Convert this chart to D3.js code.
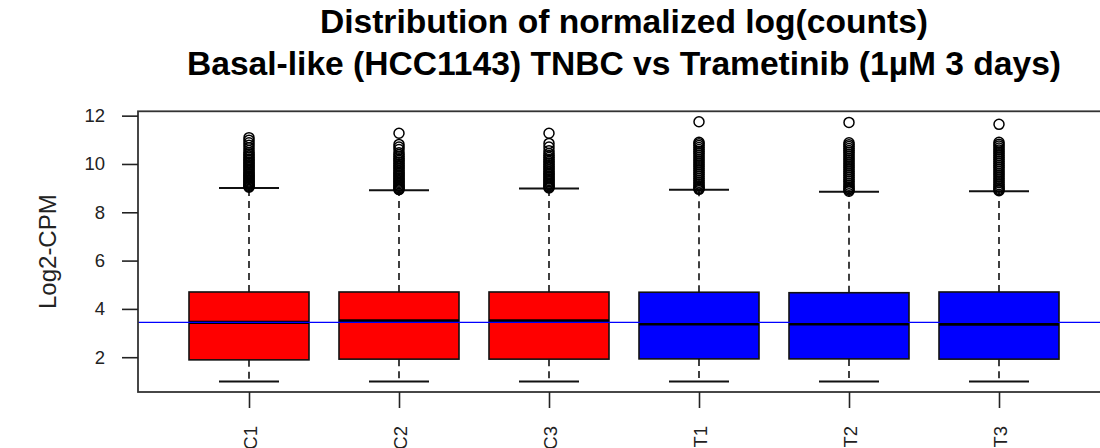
<!DOCTYPE html>
<html>
<head>
<meta charset="utf-8">
<script src="https://cdn.jsdelivr.net/npm/d3@7"></script>
<style>
  body { margin: 0; background: #fff; }
  svg { display: block; font-family: "Liberation Sans", Arial, sans-serif; }
</style>
</head>
<body>
<svg id="chart"></svg>
<script>
/////////////////// data ////////////////////////

var samples = ["C1", "C2", "C3", "T1", "T2", "T3"];
var condition = ["control", "control", "control", "trametinib", "trametinib", "trametinib"];

var lowerWhisker = [0.99, 0.99, 0.99, 0.99, 0.99, 0.99];
var q1 = [1.89, 1.92, 1.92, 1.93, 1.93, 1.92];
var median = [3.44, 3.51, 3.51, 3.38, 3.38, 3.37];
var q3 = [4.70, 4.70, 4.70, 4.69, 4.67, 4.70];
var upperWhisker = [9.01, 8.91, 8.98, 8.93, 8.85, 8.87];

var outC1 = [11.09, 10.98, 10.88, 10.78, 10.67, 10.56, 10.46, 10.4, 10.33, 10.27, 10.2, 10.14, 10.08, 10.02,
  9.96, 9.9, 9.84, 9.78, 9.72, 9.66, 9.6, 9.55, 9.5, 9.45, 9.4, 9.35, 9.3, 9.25, 9.2, 9.15, 9.11, 9.07, 9.04];
var outC2 = [11.27, 10.81, 10.7, 10.6, 10.46, 10.38, 10.3, 10.22, 10.15, 10.08, 10.01, 9.94, 9.87, 9.8,
  9.73, 9.66, 9.6, 9.54, 9.48, 9.42, 9.36, 9.3, 9.24, 9.18, 9.12, 9.07, 9.02, 8.97, 8.94];
var outC3 = [11.27, 10.85, 10.7, 10.55, 10.43, 10.35, 10.27, 10.19, 10.11, 10.04, 9.97, 9.9, 9.83, 9.76,
  9.69, 9.62, 9.56, 9.5, 9.44, 9.38, 9.32, 9.26, 9.2, 9.14, 9.09, 9.05, 9.01];
var outT1 = [11.75, 10.9, 10.84, 10.76, 10.68, 10.6, 10.52, 10.44, 10.36, 10.28, 10.2, 10.12, 10.04, 9.96,
  9.88, 9.8, 9.72, 9.64, 9.56, 9.48, 9.4, 9.32, 9.24, 9.17, 9.1, 9.04, 8.98, 8.95];
var outT2 = [11.72, 10.88, 10.8, 10.72, 10.64, 10.56, 10.48, 10.4, 10.32, 10.24, 10.16, 10.08, 10.0, 9.92,
  9.84, 9.76, 9.68, 9.6, 9.52, 9.44, 9.36, 9.28, 9.2, 9.12, 9.05, 8.98, 8.92, 8.87];
var outT3 = [11.64, 10.9, 10.82, 10.74, 10.66, 10.58, 10.5, 10.42, 10.34, 10.26, 10.18, 10.1, 10.02, 9.94,
  9.86, 9.78, 9.7, 9.62, 9.54, 9.46, 9.38, 9.3, 9.22, 9.14, 9.07, 9.0, 8.94, 8.89];
var outliers = [outC1, outC2, outC3, outT1, outT2, outT3];

var yTicks = [2, 4, 6, 8, 10, 12];
var refLine = 3.44;

var titleLines = ["Distribution of normalized log(counts)",
  "Basal-like (HCC1143) TNBC vs Trametinib (1\u00B5M 3 days)"];
var yLabel = "Log2-CPM";

/////////////////// layout //////////////////////

var svgWidth = 1100, svgHeight = 448;
var plotLeft = 138, plotRight = 1110, plotTop = 111.3, plotBottom = 392;

var svg = d3.select("#chart")
  .attr("width", svgWidth)
  .attr("height", svgHeight);

// R style: 4% padding around data range
var allVals = lowerWhisker.concat(d3.merge(outliers));
var yMin = d3.min(allVals), yMax = d3.max(allVals);
var yPad = (yMax - yMin) * 0.04;

var yScale = d3.scaleLinear()
  .domain([yMin - yPad, yMax + yPad])
  .range([plotBottom, plotTop]);

var xPad = samples.length * 0.04;
var xScale = d3.scaleLinear()
  .domain([0.5 - xPad, samples.length + 0.5 + xPad])
  .range([plotLeft, plotRight]);

var color = d3.scaleOrdinal()
  .domain(["control", "trametinib"])
  .range(["#ff0000", "#0000ff"]);

var boxW = 0.8 * (xScale(2) - xScale(1));
var capW = boxW / 2;

var data = samples.map(function (s, i) {
  return {name: s, x: xScale(i + 1), lo: lowerWhisker[i], q1: q1[i], med: median[i],
    q3: q3[i], hi: upperWhisker[i], out: outliers[i], cond: condition[i]};
});

/////////////////// boxes ///////////////////////

var g = svg.append("g");

var box = g.selectAll("g.box")
  .data(data)
  .enter()
  .append("g")
  .attr("class", "box");

// whiskers (dashed)
box.append("line")
  .attr("x1", function (d) { return d.x; })
  .attr("x2", function (d) { return d.x; })
  .attr("y1", function (d) { return yScale(d.q3); })
  .attr("y2", function (d) { return yScale(d.hi); })
  .attr("stroke", "#111").attr("stroke-width", 1.6).attr("stroke-dasharray", "7,5");
box.append("line")
  .attr("x1", function (d) { return d.x; })
  .attr("x2", function (d) { return d.x; })
  .attr("y1", function (d) { return yScale(d.q1); })
  .attr("y2", function (d) { return yScale(d.lo); })
  .attr("stroke", "#111").attr("stroke-width", 1.6).attr("stroke-dasharray", "7,5");

// caps
["hi", "lo"].forEach(function (k) {
  box.append("line")
    .attr("x1", function (d) { return d.x - capW / 2; })
    .attr("x2", function (d) { return d.x + capW / 2; })
    .attr("y1", function (d) { return yScale(d[k]); })
    .attr("y2", function (d) { return yScale(d[k]); })
    .attr("stroke", "#111").attr("stroke-width", 2);
});

box.append("rect")
  .attr("x", function (d) { return d.x - boxW / 2; })
  .attr("width", boxW)
  .attr("y", function (d) { return yScale(d.q3); })
  .attr("height", function (d) { return yScale(d.q1) - yScale(d.q3); })
  .attr("fill", function (d) { return color(d.cond); })
  .attr("stroke", "#111").attr("stroke-width", 1.6);

box.append("line")
  .attr("x1", function (d) { return d.x - boxW / 2; })
  .attr("x2", function (d) { return d.x + boxW / 2; })
  .attr("y1", function (d) { return yScale(d.med); })
  .attr("y2", function (d) { return yScale(d.med); })
  .attr("stroke", "#000").attr("stroke-width", 3.2);

// outliers
box.selectAll("circle")
  .data(function (d) { return d.out.map(function (v) { return {x: d.x, v: v}; }); })
  .enter()
  .append("circle")
  .attr("cx", function (d) { return d.x; })
  .attr("cy", function (d) { return yScale(d.v); })
  .attr("r", 5)
  .attr("fill", "none")
  .attr("stroke", "#000")
  .attr("stroke-width", 1.5);

// reference line
svg.append("line")
  .attr("x1", plotLeft).attr("x2", plotRight)
  .attr("y1", yScale(refLine)).attr("y2", yScale(refLine))
  .attr("stroke", "#0000ff").attr("stroke-width", 1.4);

/////////////////// frame & axes ////////////////

svg.append("rect")
  .attr("x", plotLeft).attr("y", plotTop)
  .attr("width", plotRight - plotLeft).attr("height", plotBottom - plotTop)
  .attr("fill", "none").attr("stroke", "#333").attr("stroke-width", 1.8);

var yAxis = svg.append("g")
  .attr("transform", "translate(" + plotLeft + ",0)")
  .attr("font-size", 18.5)
  .attr("font-family", "Liberation Sans, Arial, sans-serif")
  .call(d3.axisLeft(yScale).tickValues(yTicks).tickSize(16).tickPadding(17));
yAxis.attr("font-size", 18.5).attr("font-family", "Liberation Sans, Arial, sans-serif");
yAxis.select(".domain").remove();
yAxis.selectAll(".tick line").attr("stroke", "#222").attr("stroke-width", 1.6);
yAxis.selectAll(".tick text").attr("fill", "#222");

var xAxis = svg.append("g")
  .attr("transform", "translate(0," + plotBottom + ")")
  .call(d3.axisBottom(xScale)
    .tickValues(d3.range(1, samples.length + 1))
    .tickFormat(function (d) { return samples[d - 1]; })
    .tickSize(16));
xAxis.attr("font-size", 18.5).attr("font-family", "Liberation Sans, Arial, sans-serif");
xAxis.select(".domain").remove();
xAxis.selectAll(".tick line").attr("stroke", "#222").attr("stroke-width", 1.6);
xAxis.selectAll(".tick text")
  .attr("fill", "#222")
  .attr("transform", "translate(7,34) rotate(-90)")
  .attr("x", 0).attr("y", 0).attr("dy", 0)
  .attr("text-anchor", "end");

/////////////////// titles //////////////////////

var midX = (plotLeft + plotRight) / 2;
svg.selectAll("text.title")
  .data(titleLines)
  .enter()
  .append("text")
  .attr("class", "title")
  .attr("x", midX)
  .attr("y", function (d, i) { return 33 + i * 42; })
  .attr("text-anchor", "middle")
  .style("font-weight", "bold")
  .style("font-size", "33.6px")
  .attr("fill", "#000")
  .text(function (d) { return d; });

svg.append("text")
  .attr("transform", "translate(56," + ((plotTop + plotBottom) / 2) + ") rotate(-90)")
  .attr("text-anchor", "middle")
  .style("font-size", "24px")
  .attr("fill", "#222")
  .text(yLabel);
</script>
</body>
</html>
